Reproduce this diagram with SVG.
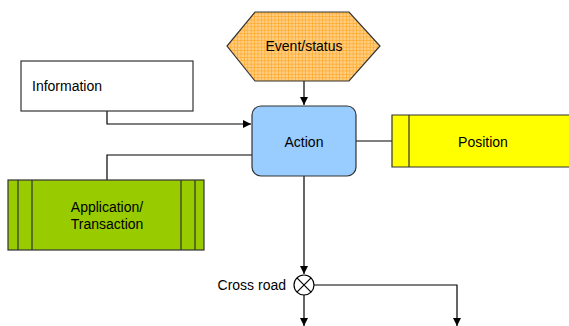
<svg xmlns="http://www.w3.org/2000/svg" width="569" height="326" viewBox="0 0 569 326">
<defs>
<pattern id="grid" width="3.4" height="3.4" patternUnits="userSpaceOnUse">
<rect width="3.4" height="3.4" fill="#FFCC80"/>
<path d="M3.4 0V3.4M0 3.4H3.4" stroke="#FF9900" stroke-width="0.9" fill="none"/>
</pattern>
<marker id="arr" viewBox="0 0 10 10" refX="10" refY="5" markerWidth="8" markerHeight="8" markerUnits="userSpaceOnUse" orient="auto">
<path d="M0 0L10 5L0 10z" fill="#000"/>
</marker>
</defs>
<style>
text{font-family:"Liberation Sans",Arial,sans-serif;font-size:14px;fill:#000}
.c{text-anchor:middle}
.ln{stroke:#000;stroke-width:1.2;fill:none}
.box{stroke:#333;stroke-width:1.2}
</style>
<rect width="569" height="326" fill="#fff"/>
<g id="connectors">
<path class="ln" d="M304 81V105" marker-end="url(#arr)"/>
<path class="ln" d="M107 111V124H251" marker-end="url(#arr)"/>
<path class="ln" d="M252 155H107V180"/>
<path class="ln" d="M356 141H392"/>
<path class="ln" d="M304 176V274" marker-end="url(#arr)"/>
<path class="ln" d="M304 295V326" marker-end="url(#arr)"/>
<path class="ln" d="M314 285H457V326" marker-end="url(#arr)"/>
</g>
<g id="event">
<polygon class="box" points="255,12 349,12 380,46 349,81 255,81 227,46" fill="url(#grid)"/>
<text class="c" x="304" y="51">Event/status</text>
</g>
<g id="information">
<rect class="box" x="21" y="61" width="172" height="50" fill="#fff"/>
<text x="32" y="91">Information</text>
</g>
<g id="action">
<rect class="box" x="252" y="106" width="104" height="70" rx="9" fill="#99CCFF"/>
<text class="c" x="304" y="147">Action</text>
</g>
<g id="position">
<path class="box" d="M575 115H392V167H575" fill="#FFFF00"/>
<path class="box" d="M409 115V167" fill="none"/>
<text class="c" x="483" y="147">Position</text>
</g>
<g id="application">
<rect class="box" x="8" y="180" width="196" height="70" fill="#99CC00"/>
<path class="box" d="M18 180V250M32 180V250M181 180V250M195 180V250" fill="none"/>
<text class="c" x="107" y="212">Application/</text>
<text class="c" x="107" y="229">Transaction</text>
</g>
<g id="crossroad">
<circle class="ln" cx="304" cy="285" r="10" fill="#fff"/>
<path class="ln" d="M296.9 277.9L311.1 292.1M311.1 277.9L296.9 292.1"/>
<text x="286" y="290" text-anchor="end">Cross road</text>
</g>
</svg>
